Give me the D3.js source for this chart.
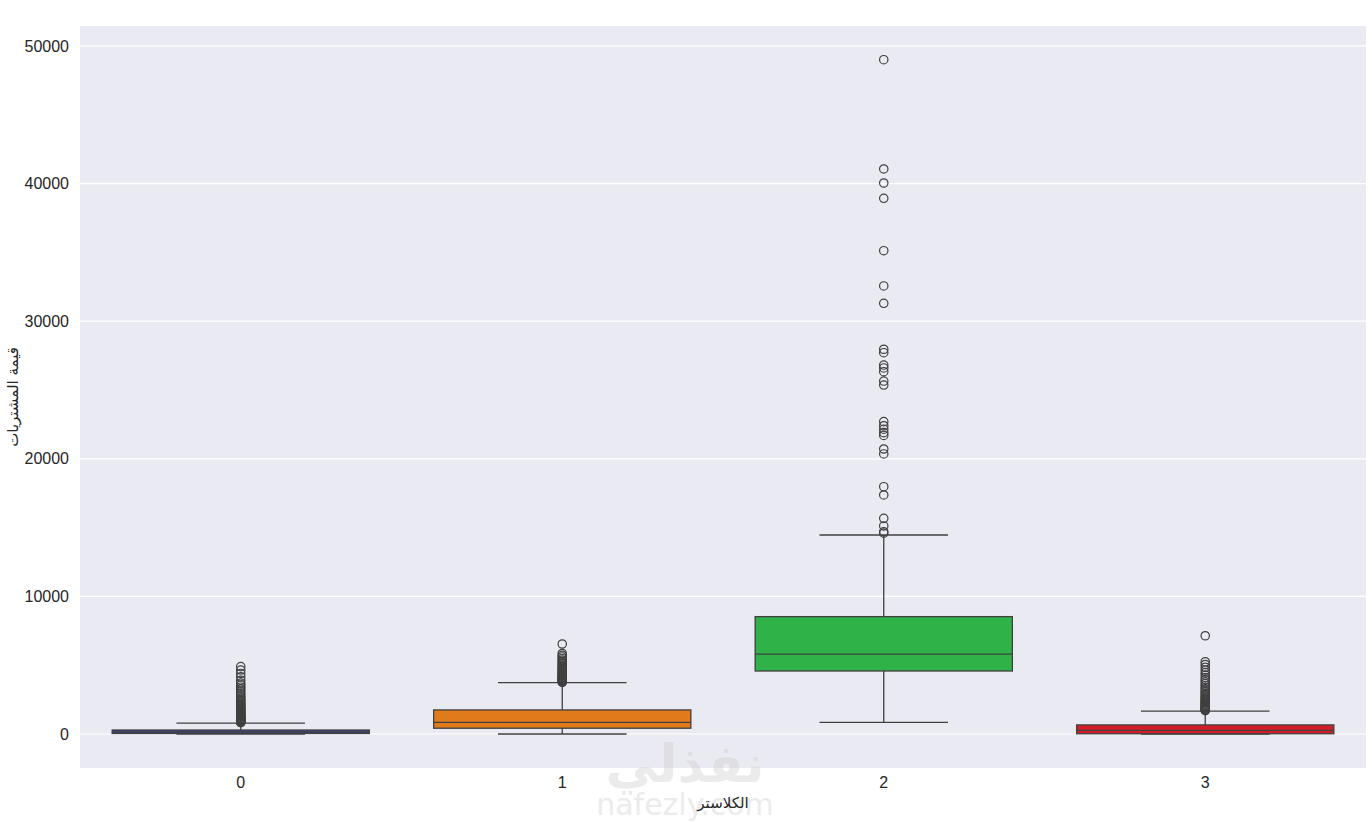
<!DOCTYPE html>
<html>
<head>
<meta charset="utf-8">
<script src="https://cdn.jsdelivr.net/npm/d3@7"></script>
<style>
  body { margin: 0; background: #fff; }
  text { font-family: "Liberation Sans", Arial, "DejaVu Sans", sans-serif; }
</style>
</head>
<body>
<script>
(()=>{
    const width = 1372;
    const height = 822;
    const marginTop = 26;
    const marginRight = 6;
    const marginBottom = 54;
    const marginLeft = 80;

    // box stats per cluster
    const clusters = ["0", "1", "2", "3"];
    const colors = ["#2d4699", "#e07b1c", "#2fb247", "#d21f27"];
    const q1 = [40, 420, 4580, 20];
    const median = [150, 840, 5810, 260];
    const q3 = [290, 1750, 8530, 660];
    const whiskerLow = [0, 0, 850, 0];
    const whiskerHigh = [790, 3730, 14460, 1670];

    const outliers0 = [820, 850, 880, 910, 940, 980, 1010, 1050, 1090, 1130, 1170, 1210, 1260, 1300, 1350,
        1400, 1450, 1500, 1560, 1620, 1680, 1740, 1800, 1870, 1940, 2010, 2090, 2170, 2250, 2340, 2430,
        2520, 2620, 2730, 2850, 2980, 3120, 3260, 3400, 3550, 3700, 3900, 4150, 4400, 4650, 4900];
    const outliers1 = [3760, 3790, 3820, 3850, 3880, 3910, 3950, 3990, 4030, 4070, 4110, 4160, 4210, 4260,
        4310, 4370, 4430, 4490, 4550, 4620, 4690, 4760, 4840, 4920, 5000, 5090, 5180, 5280, 5380, 5490,
        5600, 5720, 5850, 6540];
    const outliers2 = [14600, 14700, 15120, 15670, 17370, 17970, 20350, 20710, 21700, 21900, 22150, 22400,
        22700, 25360, 25650, 26330, 26600, 26810, 27710, 27960, 31300, 32560, 35120, 38930, 40040, 41060, 49000];
    const outliers3 = [1700, 1730, 1760, 1790, 1820, 1860, 1900, 1940, 1980, 2030, 2080, 2130, 2190, 2250,
        2310, 2380, 2450, 2520, 2600, 2680, 2770, 2860, 2960, 3060, 3170, 3280, 3400, 3530, 3660, 3800,
        3950, 4100, 4280, 4460, 4650, 4850, 5050, 5250, 7140];
    const outliers = [outliers0, outliers1, outliers2, outliers3];

    const yTicks = [0, 10000, 20000, 30000, 40000, 50000];
    const xTitle = "الكلاستر";
    const yTitle = "قيمة المشتريات";

    const boxes = clusters.map((c, i) => ({
        cluster: c, color: colors[i], q1: q1[i], median: median[i], q3: q3[i],
        lo: whiskerLow[i], hi: whiskerHigh[i], out: outliers[i]
    }));

    const x = d3.scaleBand()
        .domain(clusters)
        .range([marginLeft, width - marginRight])
        .paddingInner(0.2)
        .paddingOuter(0.1);

    const y = d3.scaleLinear()
        .domain([-2470, 51450])
        .range([height - marginBottom, marginTop]);

    const svg = d3.create("svg")
        .attr("width", width)
        .attr("height", height)
        .attr("viewBox", [0, 0, width, height]);

    svg.append("rect")
        .attr("x", marginLeft)
        .attr("y", marginTop)
        .attr("width", width - marginLeft - marginRight)
        .attr("height", height - marginTop - marginBottom)
        .attr("fill", "#eaeaf2");

    // horizontal grid
    svg.append("g")
        .selectAll("line")
        .data(yTicks)
        .join("line")
        .attr("x1", marginLeft)
        .attr("x2", width - marginRight)
        .attr("y1", d => y(d))
        .attr("y2", d => y(d))
        .attr("stroke", "#fff")
        .attr("stroke-width", 1.2);

    const yAxis = svg.append("g")
        .attr("transform", `translate(${marginLeft},0)`)
        .call(d3.axisLeft(y).tickValues(yTicks).tickFormat(d3.format("d")).tickSize(0).tickPadding(11));
    yAxis.select(".domain").remove();
    yAxis.selectAll("text").attr("font-size", 16).attr("fill", "#262626")
        .style("font-family", "'Liberation Sans', Arial, sans-serif");

    const xAxis = svg.append("g")
        .attr("transform", `translate(0,${height - marginBottom})`)
        .call(d3.axisBottom(x).tickSize(0).tickPadding(9));
    xAxis.select(".domain").remove();
    xAxis.selectAll("text").attr("font-size", 16).attr("fill", "#262626")
        .style("font-family", "'Liberation Sans', Arial, sans-serif");

    const lineColor = "#404040";
    const g = svg.append("g")
        .selectAll("g")
        .data(boxes)
        .join("g");

    const cx = d => x(d.cluster) + x.bandwidth() / 2;
    const capHalf = x.bandwidth() / 4;

    // whiskers
    g.append("line")
        .attr("x1", cx).attr("x2", cx)
        .attr("y1", d => y(d.q3)).attr("y2", d => y(d.hi))
        .attr("stroke", lineColor).attr("stroke-width", 1.3);
    g.append("line")
        .attr("x1", cx).attr("x2", cx)
        .attr("y1", d => y(d.q1)).attr("y2", d => y(d.lo))
        .attr("stroke", lineColor).attr("stroke-width", 1.3);
    g.append("line")
        .attr("x1", d => cx(d) - capHalf).attr("x2", d => cx(d) + capHalf)
        .attr("y1", d => y(d.hi)).attr("y2", d => y(d.hi))
        .attr("stroke", lineColor).attr("stroke-width", 1.3);
    g.append("line")
        .attr("x1", d => cx(d) - capHalf).attr("x2", d => cx(d) + capHalf)
        .attr("y1", d => y(d.lo)).attr("y2", d => y(d.lo))
        .attr("stroke", lineColor).attr("stroke-width", 1.3);

    // boxes
    g.append("rect")
        .attr("x", d => x(d.cluster))
        .attr("y", d => y(d.q3))
        .attr("width", x.bandwidth())
        .attr("height", d => y(d.q1) - y(d.q3))
        .attr("fill", d => d.color)
        .attr("stroke", lineColor)
        .attr("stroke-width", 1.3);
    g.append("line")
        .attr("x1", d => x(d.cluster)).attr("x2", d => x(d.cluster) + x.bandwidth())
        .attr("y1", d => y(d.median)).attr("y2", d => y(d.median))
        .attr("stroke", lineColor).attr("stroke-width", 1.3);

    // outliers
    g.selectAll("circle")
        .data(d => d.out.map(v => ({cluster: d.cluster, v})))
        .join("circle")
        .attr("cx", cx)
        .attr("cy", d => y(d.v))
        .attr("r", 4.2)
        .attr("fill", "none")
        .attr("stroke", lineColor)
        .attr("stroke-width", 1.2);

    // watermark (overlaps the x title in the original too)
    svg.append("text")
        .attr("x", 685).attr("y", 782)
        .attr("text-anchor", "middle")
        .attr("font-size", 52)
        .attr("font-weight", "bold")
        .style("font-family", "'DejaVu Sans', sans-serif")
        .attr("fill", "#c8c8c8")
        .attr("opacity", 0.35)
        .text("نفذلي");
    svg.append("text")
        .attr("x", 685).attr("y", 815)
        .attr("text-anchor", "middle")
        .attr("font-size", 30)
        .style("font-family", "'DejaVu Sans', sans-serif")
        .attr("fill", "#c8c8c8")
        .attr("opacity", 0.35)
        .text("nafezly.com");

    // axis titles
    svg.append("text")
        .attr("x", (marginLeft + width - marginRight) / 2)
        .attr("y", 808)
        .attr("text-anchor", "middle")
        .attr("font-size", 15)
        .attr("fill", "#262626")
        .style("font-family", "'DejaVu Sans', sans-serif")
        .text(xTitle);
    svg.append("text")
        .attr("transform", `translate(18,${(marginTop + height - marginBottom) / 2}) rotate(-90)`)
        .attr("text-anchor", "middle")
        .attr("font-size", 15)
        .attr("fill", "#262626")
        .style("font-family", "'DejaVu Sans', sans-serif")
        .text(yTitle);

    d3.select("body").append(() => svg.node());
})()
</script>
</body>
</html>
